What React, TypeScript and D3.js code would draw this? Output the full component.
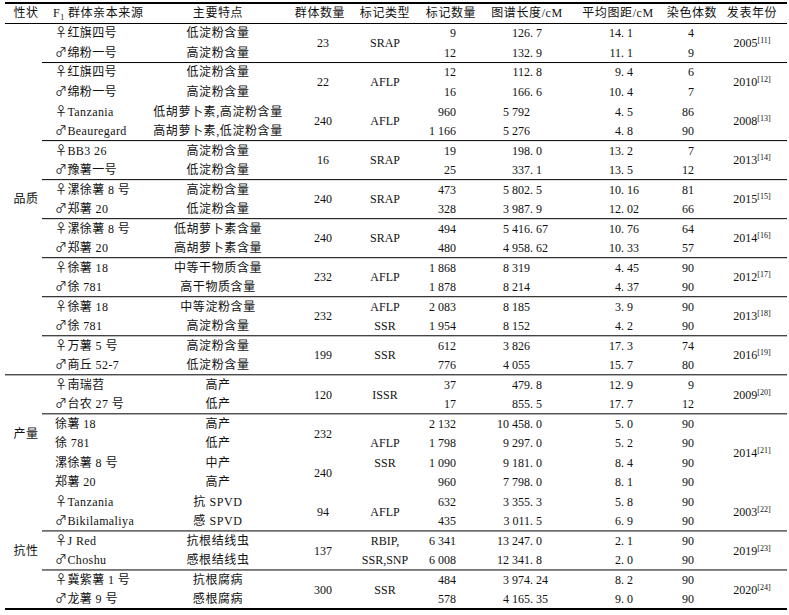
import React from 'react';
import * as d3 from 'd3';

// table content, one entry per row
const parents = [
  '♀红旗四号', '♂绵粉一号', '♀红旗四号', '♂绵粉一号', '♀Tanzania', '♂Beauregard',
  '♀BB3 26', '♂豫薯一号', '♀漯徐薯 8 号', '♂郑薯 20', '♀漯徐薯 8 号', '♂郑薯 20',
  '♀徐薯 18', '♂徐 781', '♀徐薯 18', '♂徐 781', '♀万薯 5 号', '♂商丘 52-7',
  '♀南瑞苕', '♂台农 27 号', '徐薯 18', '徐 781', '漯徐薯 8 号', '郑薯 20',
  '♀Tanzania', '♂Bikilamaliya', '♀J Red', '♂Choshu', '♀冀紫薯 1 号', '♂龙薯 9 号',
];
const traits = [
  '低淀粉含量', '高淀粉含量', '低淀粉含量', '高淀粉含量', '低胡萝卜素,高淀粉含量', '高胡萝卜素,低淀粉含量',
  '高淀粉含量', '低淀粉含量', '高淀粉含量', '低淀粉含量', '低胡萝卜素含量', '高胡萝卜素含量',
  '中等干物质含量', '高干物质含量', '中等淀粉含量', '高淀粉含量', '高淀粉含量', '低淀粉含量',
  '高产', '低产', '高产', '低产', '中产', '高产',
  '抗 SPVD', '感 SPVD', '抗根结线虫', '感根结线虫', '抗根腐病', '感根腐病',
];
const markerCounts = [
  '9', '12', '12', '16', '960', '1 166', '19', '25', '473', '328', '494', '480',
  '1 868', '1 878', '2 083', '1 954', '612', '776', '37', '17',
  '2 132', '1 798', '1 090', '960', '632', '435', '6 341', '6 008', '484', '578',
];
const mapLengths = [
  '126.7', '132.9', '112.8', '166.6', '5 792', '5 276', '198.0', '337.1', '5 802.5', '3 987.9',
  '5 416.67', '4 958.62', '8 319', '8 214', '8 185', '8 152', '3 826', '4 055', '479.8', '855.5',
  '10 458.0', '9 297.0', '9 181.0', '7 798.0', '3 355.3', '3 011.5', '13 247.0', '12 341.8', '3 974.24', '4 165.35',
];
const avgDistances = [
  '14.1', '11.1', '9.4', '10.4', '4.5', '4.8', '13.2', '13.5', '10.16', '12.02',
  '10.76', '10.33', '4.45', '4.37', '3.9', '4.2', '17.3', '15.7', '12.9', '17.7',
  '5.0', '5.2', '8.4', '8.1', '5.8', '6.9', '2.1', '2.0', '8.2', '9.0',
];
const chromosomes = [
  '4', '9', '6', '7', '86', '90', '7', '12', '81', '66', '64', '57', '90', '90', '90',
  '90', '74', '80', '9', '12', '90', '90', '90', '90', '90', '90', '90', '90', '90', '90',
];

// grouped cells: [first row, end row)
const categories = ['品质', '产量', '抗性'];
const categorySpans = [[0, 18], [18, 24], [24, 30]];

const popSizes = ['23', '22', '240', '16', '240', '240', '232', '232', '199', '120', '232', '240', '94', '137', '300'];
const popSpans = [[0, 2], [2, 4], [4, 6], [6, 8], [8, 10], [10, 12], [12, 14], [14, 16], [16, 18], [18, 20], [20, 22], [22, 24], [24, 26], [26, 28], [28, 30]];

const markerTypes = [['SRAP'], ['AFLP'], ['AFLP'], ['SRAP'], ['SRAP'], ['SRAP'], ['AFLP'], ['AFLP', 'SSR'], ['SSR'], ['ISSR'], ['AFLP', 'SSR'], ['AFLP'], ['RBIP,', 'SSR,SNP'], ['SSR']];
const markerSpans = [[0, 2], [2, 4], [4, 6], [6, 8], [8, 10], [10, 12], [12, 14], [14, 16], [16, 18], [18, 20], [20, 24], [24, 26], [26, 28], [28, 30]];

const years = ['2005', '2010', '2008', '2013', '2015', '2014', '2012', '2013', '2016', '2009', '2014', '2003', '2019', '2020'];
const refs = ['11', '12', '13', '14', '15', '16', '17', '18', '19', '20', '21', '22', '23', '24'];
const yearSpans = markerSpans;

const headers = ['性状', '', '主要特点', '群体数量', '标记类型', '标记数量', '图谱长度/cM', '平均图距/cM', '染色体数', '发表年份'];

// rules below these rows
const partialRules = [2, 6, 8, 10, 12, 14, 16, 20, 26, 28];
const fullRules = [18];

const FONT = '"Liberation Serif", "Noto Sans CJK SC", serif';
const CJK = '"Noto Sans CJK SC", sans-serif';
const W = 789;
const H = 615;
const LEFT = 5;
const RIGHT = 787;
const INNER = 42;

const col = { cat: 26, parent: 55, trait: 218, pop: 323, marker: 385, count: 456, length: 530, dist: 621, chrom: 694, year: 752 };
const headerX = [26, 0, 218, 320, 385, 451, 527, 618, 692, 752];

const y = d3.scaleLinear().domain([0, parents.length]).range([23.5, 609]);
const rowMid = (i: number) => y(i + 0.5);
const spanMid = (s: number[]) => y((s[0] + s[1]) / 2);
const rowH = y(1) - y(0);

const Decimal = ({ x, yy, v }: { x: number; yy: number; v: string }) => {
  const [a, b] = v.split('.');
  return (
    <g>
      <text x={x} y={yy} dy="0.35em" textAnchor="end">{a}</text>
      {b !== undefined && <text x={x} y={yy} dy="0.35em" textAnchor="start">{'. ' + b}</text>}
    </g>
  );
};

const Parent = ({ x, yy, v }: { x: number; yy: number; v: string }) => {
  const sym = v[0] === '♀' || v[0] === '♂' ? v[0] : '';
  const rest = sym ? v.slice(1) : v;
  return (
    <text x={x} y={yy} dy="0.35em" letterSpacing={0.4}>
      {sym && <tspan fontFamily={CJK} fontSize={12}>{sym}</tspan>}
      <tspan>{rest}</tspan>
    </text>
  );
};

export default function App() {
  return (
    <div style={{ position: 'absolute', left: 0, top: 0, background: '#fff' }}>
      <svg width={W} height={H} viewBox={`0 0 ${W} ${H}`} style={{ display: 'block', fontFamily: FONT, fontSize: 12, fill: '#111' }}>
        <rect width={W} height={H} fill="#fff" />

        {/* header */}
        {headers.map((h, i) => h && (
          <text key={i} x={headerX[i]} y={13} dy="0.35em" textAnchor="middle" letterSpacing={0.6}>{h}</text>
        ))}
        <text x={53} y={13} dy="0.35em" letterSpacing={0.6}>
          F<tspan fontSize={8} dy={3}>1</tspan><tspan dy={-3} dx={3}>群体亲本来源</tspan>
        </text>

        {/* rules */}
        <line x1={LEFT} x2={RIGHT} y1={3} y2={3} stroke="#000" strokeWidth={2} />
        <line x1={LEFT} x2={RIGHT} y1={y(0)} y2={y(0)} stroke="#000" strokeWidth={1} />
        {partialRules.map(r => (
          <line key={'p' + r} x1={INNER} x2={RIGHT} y1={y(r)} y2={y(r)} stroke="#000" strokeWidth={1} />
        ))}
        {fullRules.map(r => (
          <line key={'f' + r} x1={LEFT} x2={RIGHT} y1={y(r)} y2={y(r)} stroke="#000" strokeWidth={1} />
        ))}
        <line x1={LEFT} x2={RIGHT} y1={y(parents.length)} y2={y(parents.length)} stroke="#000" strokeWidth={2} />

        {/* categories */}
        {categories.map((c, i) => (
          <text key={c} x={col.cat} y={spanMid(categorySpans[i])} dy="0.35em" textAnchor="middle" letterSpacing={0.6}>{c}</text>
        ))}

        {/* per row cells */}
        {parents.map((p, i) => (
          <g key={i}>
            <Parent x={col.parent} yy={rowMid(i)} v={p} />
            <text x={col.trait} y={rowMid(i)} dy="0.35em" textAnchor="middle" letterSpacing={0.6}>{traits[i]}</text>
            <text x={col.count} y={rowMid(i)} dy="0.35em" textAnchor="end">{markerCounts[i]}</text>
            <Decimal x={col.length} yy={rowMid(i)} v={mapLengths[i]} />
            <Decimal x={col.dist} yy={rowMid(i)} v={avgDistances[i]} />
            <text x={col.chrom} y={rowMid(i)} dy="0.35em" textAnchor="end">{chromosomes[i]}</text>
          </g>
        ))}

        {/* grouped cells */}
        {popSizes.map((v, i) => (
          <text key={'pop' + i} x={col.pop} y={spanMid(popSpans[i])} dy="0.35em" textAnchor="middle">{v}</text>
        ))}
        {markerTypes.map((lines, i) => lines.map((t, j) => (
          <text key={'m' + i + j} x={col.marker} y={spanMid(markerSpans[i]) + (j - (lines.length - 1) / 2) * rowH}
            dy="0.35em" textAnchor="middle">{t}</text>
        )))}
        {years.map((v, i) => (
          <text key={'y' + i} x={col.year} y={spanMid(yearSpans[i])} dy="0.35em" textAnchor="middle">
            {v}<tspan fontSize={8} dy={-4}>{'[' + refs[i] + ']'}</tspan>
          </text>
        ))}
      </svg>
    </div>
  );
}
